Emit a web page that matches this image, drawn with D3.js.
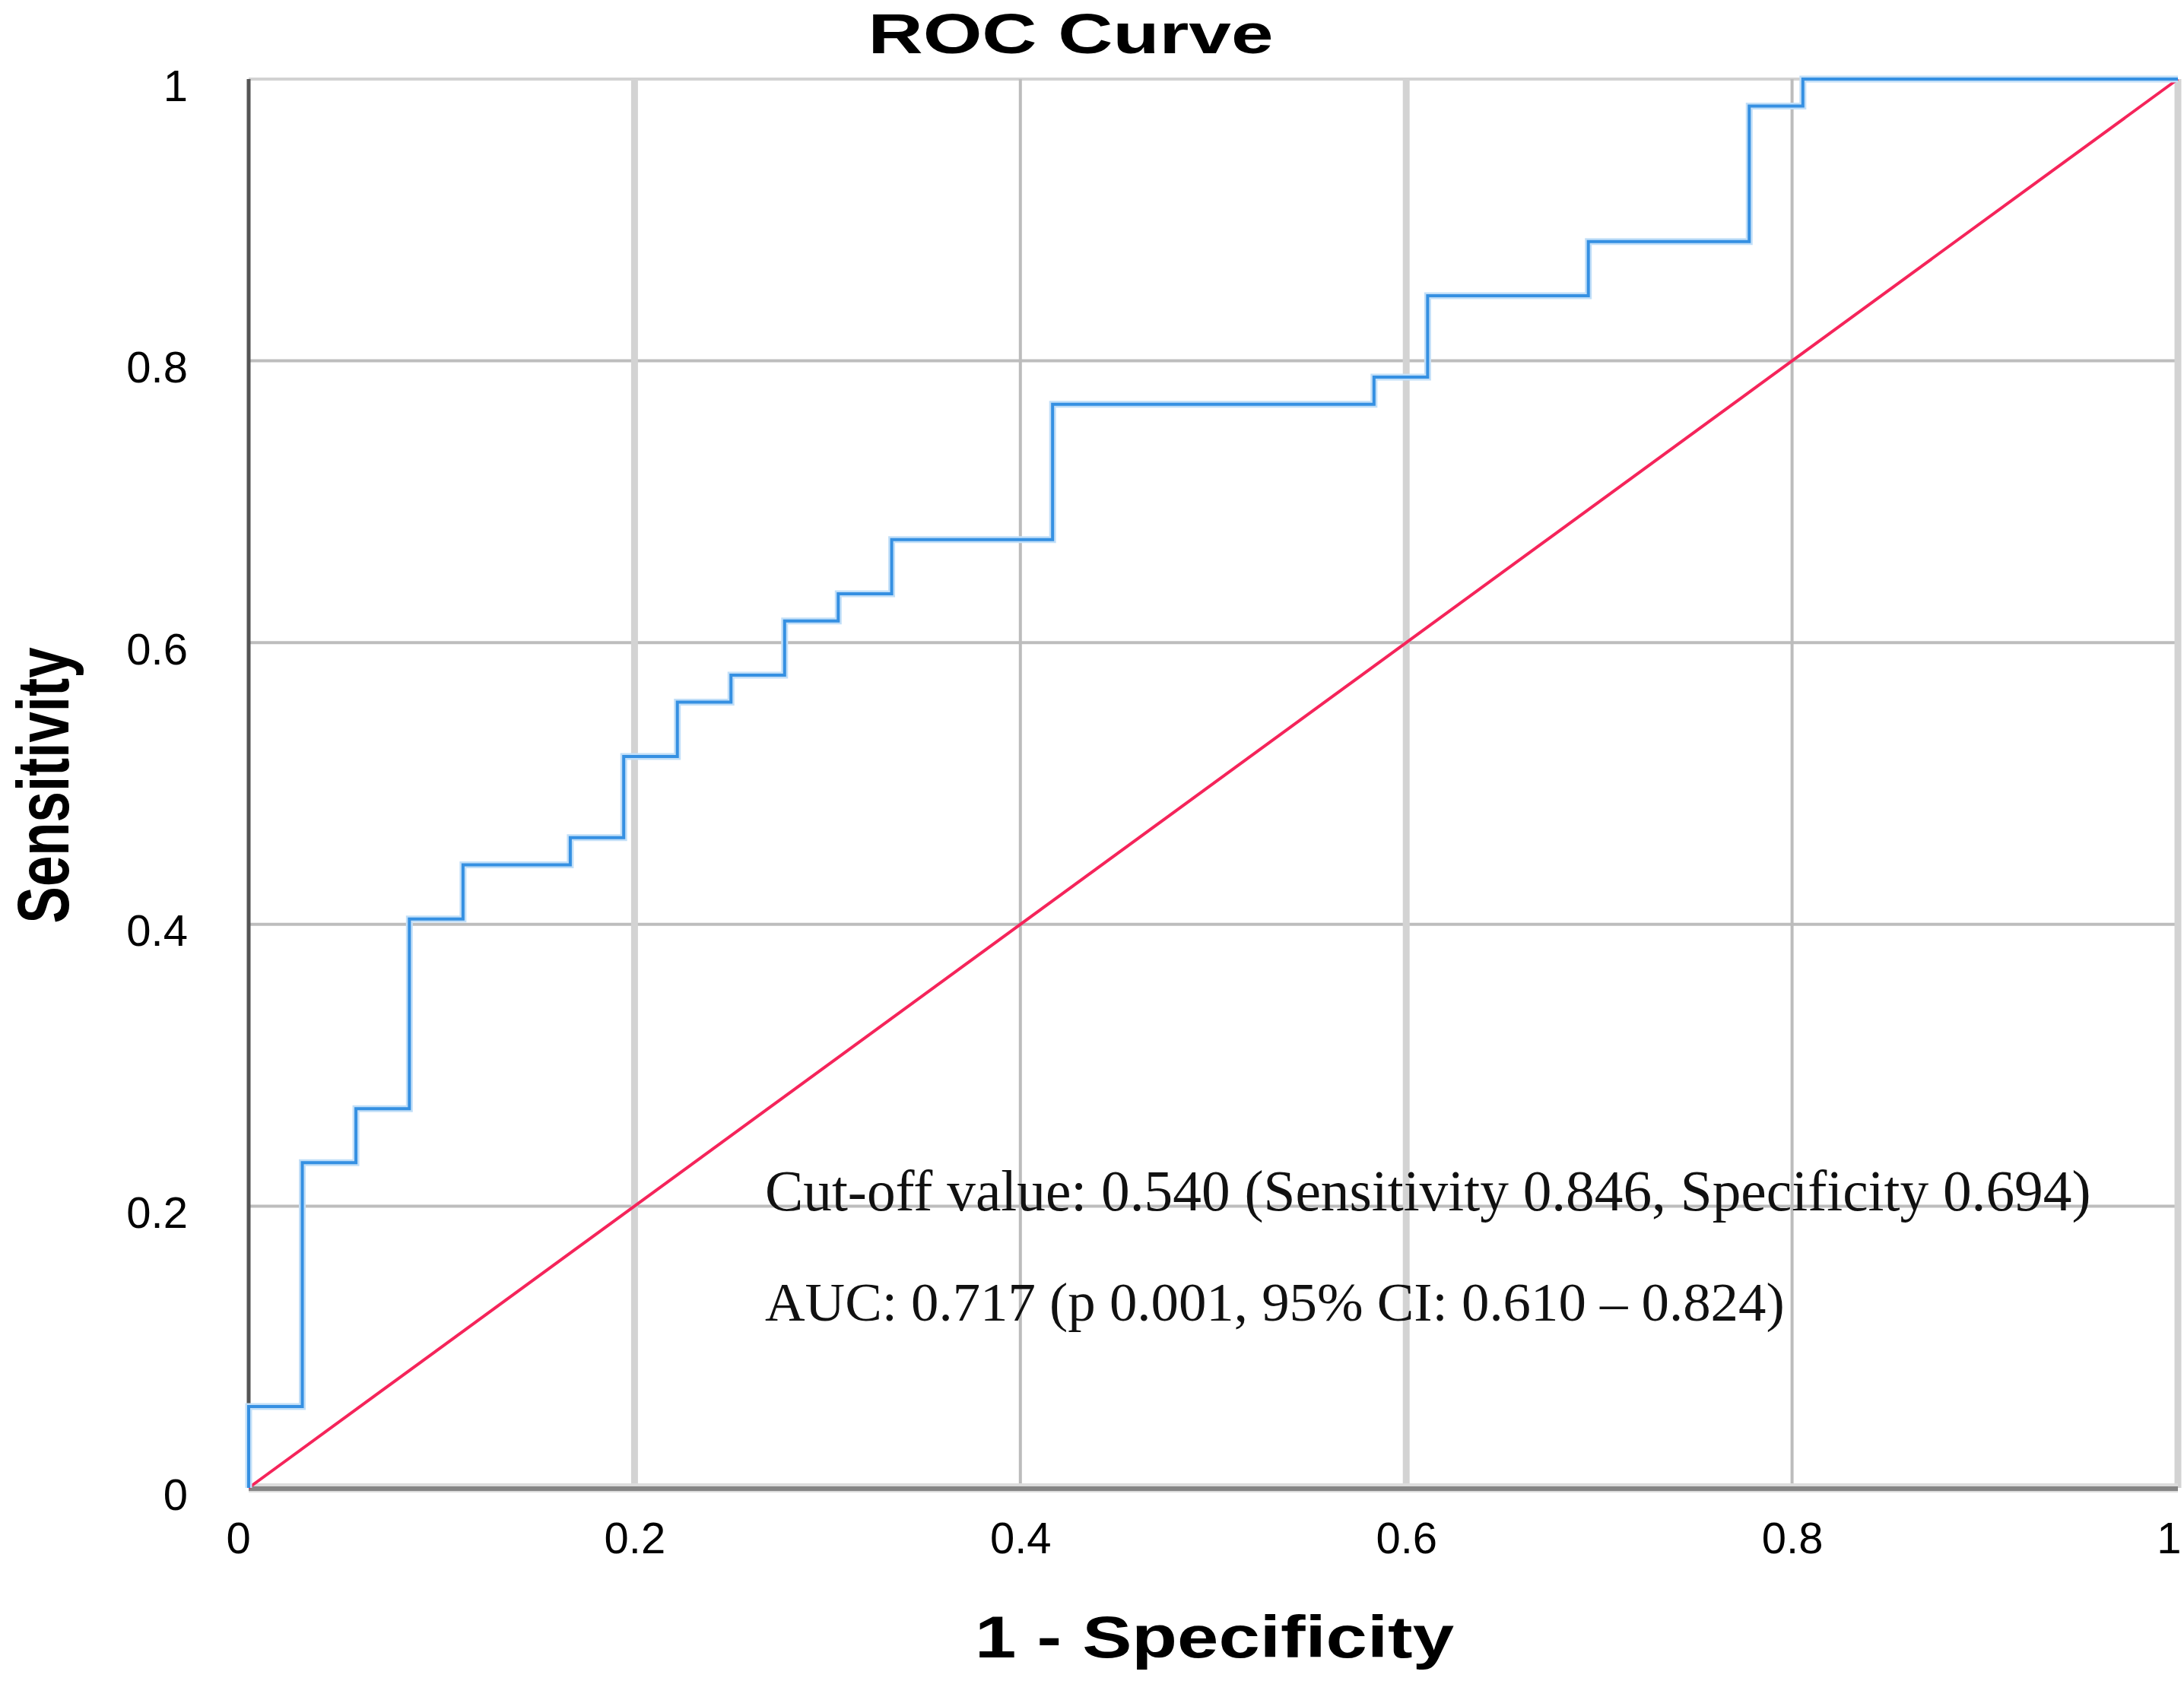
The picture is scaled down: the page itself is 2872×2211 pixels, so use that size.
<!DOCTYPE html>
<html>
<head>
<meta charset="utf-8">
<script src="https://cdn.jsdelivr.net/npm/d3@7"></script>
<style>
  body { margin: 0; background: #fff; }
</style>
</head>
<body>
<div id="chart"></div>
<script>
// ROC data (1 - specificity, sensitivity)
var fpr = [0, 0, 0.0278, 0.0556, 0.0833, 0.1111, 0.1667, 0.1944, 0.2222, 0.25, 0.2778,
           0.3056, 0.3333, 0.4167, 0.5833, 0.6111, 0.6944, 0.7778, 0.8056, 1];
var tpr = [0, 0.0577, 0.2308, 0.2692, 0.4038, 0.4423, 0.4615, 0.5192, 0.5577, 0.5769, 0.6154,
           0.6346, 0.6731, 0.7692, 0.7885, 0.8462, 0.8846, 0.9808, 1, 1];
var refX = [0, 1];
var refY = [0, 1];
var ticks = [0, 0.2, 0.4, 0.6, 0.8, 1];
var tickLabels = ['0', '0.2', '0.4', '0.6', '0.8', '1'];
var title = 'ROC Curve';
var xTitle = '1 - Specificity';
var yTitle = 'Sensitivity';
var notes = ['Cut-off value: 0.540 (Sensitivity 0.846, Specificity 0.694)',
             'AUC: 0.717 (p 0.001, 95% CI: 0.610 \u2013 0.824)'];

var sans = '"Liberation Sans", Arial, sans-serif';
var serif = '"Liberation Serif", "DejaVu Serif", serif';

// set up chart
var svgWidth = 2872;
var svgHeight = 2211;
var margin = { top: 104, right: 8, bottom: 254, left: 327 };
var width = svgWidth - margin.left - margin.right;
var height = svgHeight - margin.top - margin.bottom;

var svg = d3.select('#chart')
  .append('svg')
  .attr('width', svgWidth)
  .attr('height', svgHeight);

svg.append('rect')
  .attr('width', svgWidth)
  .attr('height', svgHeight)
  .attr('fill', '#fff');

var chartGroup = svg.append('g')
  .attr('transform', `translate(${margin.left}, ${margin.top})`);

var xScale = d3.scaleLinear().domain([0, 1]).range([0, width]);
var yScale = d3.scaleLinear().domain([0, 1]).range([height, 0]);

// grid lines
chartGroup.selectAll('.hgrid')
  .data(ticks.slice(1))
  .enter()
  .append('line')
  .attr('x1', 0)
  .attr('x2', width)
  .attr('y1', d => yScale(d))
  .attr('y2', d => yScale(d))
  .attr('stroke', d => d === 1 ? '#d2d2d2' : '#bdbdbd')
  .attr('stroke-width', 4);

chartGroup.selectAll('.vgrid')
  .data(ticks.slice(1))
  .enter()
  .append('line')
  .attr('x1', d => xScale(d))
  .attr('x2', d => xScale(d))
  .attr('y1', 0)
  .attr('y2', height)
  .attr('stroke', (d, i) => i % 2 === 0 ? '#d3d3d3' : '#bcbcbc')
  .attr('stroke-width', (d, i) => i % 2 === 0 ? 9 : 4);

// axes
var bottomAxis = d3.axisBottom(xScale).tickValues(ticks).tickSize(0)
  .tickFormat((d, i) => tickLabels[i]);
var leftAxis = d3.axisLeft(yScale).tickValues(ticks).tickSize(0)
  .tickFormat((d, i) => tickLabels[i]);

var xAxisG = chartGroup.append('g')
  .attr('transform', `translate(0, ${height})`)
  .call(bottomAxis);
xAxisG.select('.domain').remove();
xAxisG.selectAll('text')
  .style('font-family', sans)
  .style('font-size', '58px')
  .attr('fill', '#000')
  .attr('y', 86)
  .attr('dy', 0);
xAxisG.selectAll('.tick').filter(d => d === 0).select('text').attr('x', -14);
xAxisG.selectAll('.tick').filter(d => d === 1).select('text')
  .attr('text-anchor', 'end').attr('x', 4);

var yAxisG = chartGroup.append('g').call(leftAxis);
yAxisG.select('.domain').remove();
yAxisG.selectAll('text')
  .style('font-family', sans)
  .style('font-size', '58px')
  .attr('fill', '#000')
  .attr('x', -80)
  .attr('dy', 28);

// axis lines
chartGroup.append('line')
  .attr('x1', 0).attr('x2', width)
  .attr('y1', height).attr('y2', height)
  .attr('stroke', '#dcdcdc').attr('stroke-width', 12);
chartGroup.append('line')
  .attr('x1', 0).attr('x2', width)
  .attr('y1', height + 1).attr('y2', height + 1)
  .attr('stroke', '#858585').attr('stroke-width', 6);
chartGroup.append('line')
  .attr('x1', 0).attr('x2', 0)
  .attr('y1', 0).attr('y2', height)
  .attr('stroke', '#555').attr('stroke-width', 5);

// reference diagonal
var refLine = d3.line()
  .x(d => xScale(d[0]))
  .y(d => yScale(d[1]));
chartGroup.append('path')
  .datum(d3.zip(refX, refY))
  .attr('d', refLine)
  .attr('fill', 'none')
  .attr('stroke', '#f5245a')
  .attr('stroke-width', 4);

// roc curve
var rocLine = d3.line()
  .x(d => xScale(d[0]))
  .y(d => yScale(d[1]))
  .curve(d3.curveStepAfter);
var rocData = d3.zip(fpr, tpr);
chartGroup.append('path')
  .datum(rocData)
  .attr('d', rocLine)
  .attr('fill', 'none')
  .attr('stroke', '#c2dff8')
  .attr('stroke-width', 9);
chartGroup.append('path')
  .datum(rocData)
  .attr('d', rocLine)
  .attr('fill', 'none')
  .attr('stroke', '#3590e2')
  .attr('stroke-width', 4);

// titles
svg.append('text')
  .attr('x', 1408)
  .attr('y', 70)
  .attr('text-anchor', 'middle')
  .style('font-family', sans)
  .style('font-size', '75px')
  .style('font-weight', 'bold')
  .attr('textLength', 533)
  .attr('lengthAdjust', 'spacingAndGlyphs')
  .text(title);

svg.append('text')
  .attr('x', 1597)
  .attr('y', 2180)
  .attr('text-anchor', 'middle')
  .style('font-family', sans)
  .style('font-size', '77px')
  .style('font-weight', 'bold')
  .attr('textLength', 630)
  .attr('lengthAdjust', 'spacingAndGlyphs')
  .text(xTitle);

svg.append('text')
  .attr('transform', 'translate(90, 1033) rotate(-90)')
  .attr('text-anchor', 'middle')
  .style('font-family', sans)
  .style('font-size', '96px')
  .style('font-weight', 'bold')
  .attr('textLength', 363)
  .attr('lengthAdjust', 'spacingAndGlyphs')
  .text(yTitle);

// annotation: size each line's font so it spans the same width as in the reference
var noteWidths = [1744, 1341];
svg.append('g').selectAll('text')
  .data(notes)
  .enter()
  .append('text')
  .attr('x', 1006)
  .attr('y', (d, i) => 1592 + i * 145)
  .style('font-family', serif)
  .style('font-size', '70px')
  .attr('fill', '#111')
  .text(d => d)
  .each(function(d, i) {
    var natural = this.getComputedTextLength();
    d3.select(this).style('font-size', (70 * noteWidths[i] / natural) + 'px');
  });
</script>
</body>
</html>
